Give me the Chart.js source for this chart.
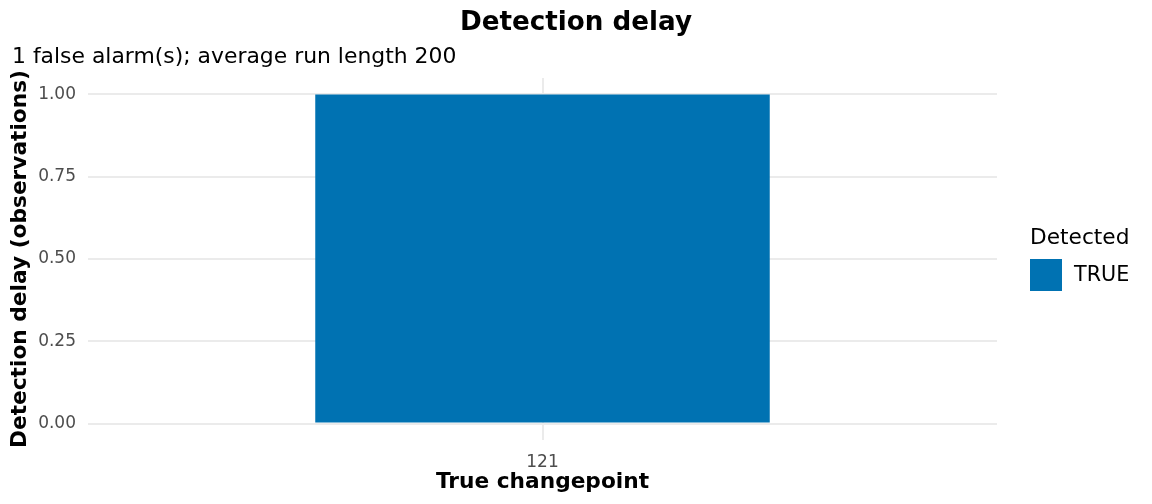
<!DOCTYPE html>
<html>
<head>
<meta charset="utf-8">
<script src="https://cdn.jsdelivr.net/npm/chart.js@4"></script>
<style>
  html, body { margin: 0; padding: 0; background: #ffffff; }
  #wrap { width: 1152px; height: 504px; }
</style>
</head>
<body>
<div id="wrap"><canvas id="c" width="1152" height="504"></canvas></div>
<script>
// ---- data ----
const categories = ['121'];
const delays = [1];
const yTickValues = [0, 0.25, 0.5, 0.75, 1];
const seriesLabel = 'TRUE';
const legendTitle = 'Detected';
const titleText = 'Detection delay';
const subtitleText = '1 false alarm(s); average run length 200';
const xTitle = 'True changepoint';
const yTitle = 'Detection delay (observations)';

const FONT = '"DejaVu Sans", sans-serif';
const BAR_COLOR = '#0072B2';
const GRID = '#EBEBEB';
const TICK = '#4D4D4D';

const headerPlugin = {
  id: 'header',
  afterDraw(chart) {
    const ctx = chart.ctx;
    ctx.save();
    ctx.fillStyle = '#000000';
    ctx.textBaseline = 'alphabetic';
    ctx.font = 'bold 26.2px ' + FONT;
    ctx.textAlign = 'center';
    ctx.fillText(titleText, chart.width / 2, 30);
    ctx.font = '21.9px ' + FONT;
    ctx.textAlign = 'left';
    ctx.fillText(subtitleText, 12, 63);
    ctx.restore();
  }
};

const legendPlugin = {
  id: 'sideLegend',
  afterDraw(chart) {
    const ctx = chart.ctx;
    const ds = chart.data.datasets[0];
    const x0 = chart.chartArea.right + 33;
    ctx.save();
    ctx.fillStyle = '#000000';
    ctx.textBaseline = 'middle';
    ctx.textAlign = 'left';
    ctx.font = '21.7px ' + FONT;
    ctx.fillText(legendTitle, x0, 238);
    ctx.fillStyle = ds.backgroundColor;
    ctx.fillRect(x0, 259, 32, 32);
    ctx.fillStyle = '#000000';
    ctx.font = '20.7px ' + FONT;
    ctx.fillText(ds.label, x0 + 44, 276);
    ctx.restore();
  }
};

new Chart(document.getElementById('c'), {
  type: 'bar',
  data: {
    labels: categories,
    datasets: [{
      label: seriesLabel,
      data: delays,
      backgroundColor: BAR_COLOR,
      borderWidth: 0,
      barPercentage: 0.5,
      categoryPercentage: 1.0
    }]
  },
  options: {
    responsive: false,
    animation: false,
    devicePixelRatio: 1,
    layout: { padding: { top: 78, right: 155, bottom: 0, left: 0 } },
    plugins: {
      legend: { display: false },
      tooltip: { enabled: false },
      title: { display: false }
    },
    scales: {
      x: {
        type: 'category',
        offset: true,
        grid: { offset: false, color: GRID, lineWidth: 2, drawTicks: false },
        border: { display: false },
        ticks: { color: TICK, font: { family: FONT, size: 17 }, padding: 12 },
        title: {
          display: true, text: xTitle, color: '#000000',
          font: { family: FONT, size: 21.7, weight: 'bold' },
          padding: { top: 0, bottom: 9 }
        },
        afterFit(s) { s.height = 64; }
      },
      y: {
        type: 'linear',
        min: -0.05,
        max: 1.05,
        afterBuildTicks(s) { s.ticks = yTickValues.map(v => ({ value: v })); },
        grid: { color: GRID, lineWidth: 2, drawTicks: false },
        border: { display: false },
        ticks: {
          color: TICK, font: { family: FONT, size: 17 }, padding: 12,
          callback: v => Number(v).toFixed(2)
        },
        title: {
          display: true, text: yTitle, color: '#000000',
          font: { family: FONT, size: 21.7, weight: 'bold' },
          padding: { top: 7, bottom: 0 }
        },
        afterFit(s) { s.width = 88; }
      }
    }
  },
  plugins: [headerPlugin, legendPlugin]
});
</script>
</body>
</html>
